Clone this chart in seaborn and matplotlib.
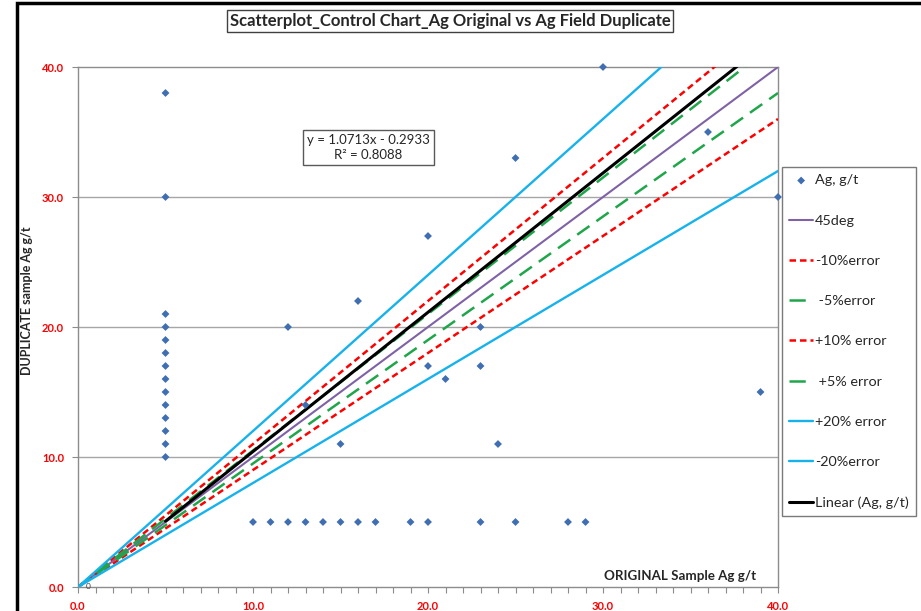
import matplotlib
matplotlib.use("Agg")
import matplotlib.pyplot as plt
import seaborn as sns
import numpy as np
from matplotlib.patches import Rectangle
from matplotlib.lines import Line2D
from matplotlib.ticker import MultipleLocator, FormatStrFormatter

# ---- data ----
orig_x = [5, 5, 5, 5, 5, 5, 5, 5, 5, 5, 5, 5, 5, 5,
          10, 11, 12, 13, 14, 15, 16, 17, 19, 20, 23, 25, 28, 29,
          15, 24, 13, 12, 23, 20, 21, 23, 16, 20, 25, 36, 30, 40, 39]
dup_y = [38, 30, 21, 20, 19, 18, 17, 16, 15, 14, 13, 12, 11, 10,
         5, 5, 5, 5, 5, 5, 5, 5, 5, 5, 5, 5, 5, 5,
         11, 11, 14, 20, 20, 17, 16, 17, 22, 27, 33, 35, 40, 30, 15]

guide_labels = ["45deg", "-10%error", " -5%error", "+10% error", " +5% error",
                "+20% error", "-20%error"]
guide_slopes = [1.0, 1.1, 1.05, 0.9, 0.95, 1.2, 0.8]
guide_x = [0.0, 40.0]

trend_slope = 1.0713
trend_intercept = -0.2933
trend_r2 = 0.8088

title = "Scatterplot_Control Chart_Ag Original vs Ag Field Duplicate"
xlabel = "ORIGINAL Sample Ag g/t"
ylabel = "DUPLICATE sample Ag g/t"
ticks = [0, 10, 20, 30, 40]

# ---- styles ----
sns.set_style("white")
plt.rcParams['font.family'] = ['Lato', 'DejaVu Sans']

styles = {
    "45deg": dict(color="#7F62A6", lw=1.5, linestyle="-"),
    "-10%error": dict(color="#FF0000", lw=1.8, linestyle=(0, (2.6, 1.6))),
    " -5%error": dict(color="#1FA64A", lw=1.8, linestyle=(0, (6, 3.4))),
    "+10% error": dict(color="#FF0000", lw=1.8, linestyle=(0, (2.6, 1.6))),
    " +5% error": dict(color="#1FA64A", lw=1.8, linestyle=(0, (6, 3.4))),
    "+20% error": dict(color="#17B2EC", lw=1.7, linestyle="-"),
    "-20%error": dict(color="#17B2EC", lw=1.7, linestyle="-"),
}

fig = plt.figure(figsize=(9.21, 6.11), dpi=100)
ax = fig.add_axes([78 / 921, 24 / 611, 700 / 921, 520 / 611])

ax.set_xlim(0, 40)
ax.set_ylim(0, 40)

# grid
for yv in [10, 20, 30]:
    ax.axhline(yv, color="#A6A6A6", lw=1.0, zorder=1)

# guide lines
gx = np.array(guide_x)
for lab, sl in zip(guide_labels, guide_slopes):
    sns.lineplot(x=gx, y=gx * sl, ax=ax, label=lab, zorder=3, **styles[lab])

# trend line (over data range)
tx = np.array([min(orig_x), max(orig_x)], dtype=float)
sns.lineplot(x=tx, y=trend_slope * tx + trend_intercept, ax=ax, color="black",
             lw=2.2, label="Linear (Ag, g/t)", zorder=4)

# data points
sns.scatterplot(x=orig_x, y=dup_y, ax=ax, marker="D", s=16, color="#3F6FB2",
                edgecolor="none", label="Ag, g/t", zorder=6, clip_on=False)

handles, labels = ax.get_legend_handles_labels()
if ax.get_legend() is not None:
    ax.get_legend().remove()

# axes styling
for s in ax.spines.values():
    s.set_color("#8C8C8C")
    s.set_linewidth(1.0)
ax.set_xticks(ticks)
ax.set_yticks(ticks)
ax.xaxis.set_minor_locator(MultipleLocator(1))
ax.xaxis.set_major_formatter(FormatStrFormatter("%.1f"))
ax.yaxis.set_major_formatter(FormatStrFormatter("%.1f"))
ax.tick_params(axis="x", which="both", direction="out", length=4, width=0.8,
               color="#8C8C8C", bottom=True, labelsize=8, labelcolor="#FF0000", pad=6)
ax.tick_params(axis="y", which="major", direction="out", length=4, width=0.8,
               color="#8C8C8C", left=True, labelsize=8, labelcolor="#FF0000", pad=6)
for lbl in ax.get_xticklabels() + ax.get_yticklabels():
    lbl.set_fontweight("bold")
ax.set_xlabel("")
ax.set_ylabel("")

# small data label at origin
ax.text(0.57, 0.05, "0", fontsize=6, color="#404040", ha="center", va="center")

# axis titles
ax.text(34.4, 0.85, xlabel, fontsize=9.6, fontweight="bold", ha="center", va="center")
fig.text(27 / 921, 1 - 301 / 611, ylabel, fontsize=9, fontweight="bold",
         rotation=90, ha="center", va="center")

# equation box
ax.text(16.6, 33.8, f"y = {trend_slope}x - {abs(trend_intercept)}\nR² = {trend_r2}",
        fontsize=9.5, ha="center", va="center", linespacing=1.25,
        bbox=dict(boxstyle="square,pad=0.3", fc="white", ec="#595959", lw=1.0), zorder=7)

# title box
fig.text(450 / 921, 1 - 21 / 611, title, fontsize=12, fontweight="bold",
         ha="center", va="center",
         bbox=dict(boxstyle="square,pad=0.18", fc="white", ec="#404040", lw=1.0))

# legend (green handles show a single short dash like the original)
order = ["Ag, g/t", "45deg", "-10%error", " -5%error", "+10% error", " +5% error",
         "+20% error", "-20%error", "Linear (Ag, g/t)"]
hmap = dict(zip(labels, handles))
for lab in [" -5%error", " +5% error"]:
    hmap[lab] = Line2D([], [], color=styles[lab]["color"], lw=1.8,
                       linestyle=(0, (6.5, 20)))
leg = fig.legend([hmap[o] for o in order], order, loc="upper left",
                 bbox_to_anchor=(782 / 921, 1 - 167 / 611), fontsize=10.4,
                 frameon=True, fancybox=False, edgecolor="#595959",
                 labelspacing=1.95, handlelength=1.65, handletextpad=0.15,
                 borderpad=0.5, borderaxespad=0, scatterpoints=1)
leg.get_frame().set_linewidth(1.0)

# outer chart frame
fig.add_artist(Rectangle((17 / 921, -0.1), 1.2, 0.1 + 1 - 3 / 611, fill=False,
                         ec="black", lw=2.5, transform=fig.transFigure))

fig.savefig("out.png", dpi=100)
